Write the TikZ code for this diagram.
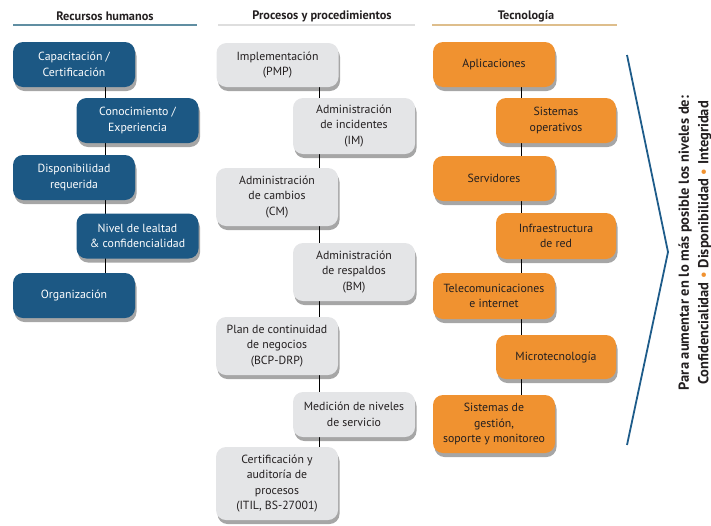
\documentclass[tikz,border=0pt]{standalone}
\usepackage{fontspec}
\setmainfont{PT Sans}
\usetikzlibrary{shadows,backgrounds}
\definecolor{rhblue}{RGB}{28,88,132}
\definecolor{ppgrey}{RGB}{228,229,231}
\definecolor{tcorange}{RGB}{240,146,48}
\definecolor{ulblue}{RGB}{96,142,162}
\definecolor{ulgrey}{RGB}{222,222,222}
\definecolor{ultan}{RGB}{222,190,140}
\definecolor{brblue}{RGB}{30,92,138}
\definecolor{txtdark}{RGB}{35,31,32}
\tikzset{
  box/.style={rounded corners=10pt, align=center, font=\fontsize{11.8}{15.5}\selectfont,
    inner sep=1pt,
    drop shadow={shadow xshift=1.5pt, shadow yshift=-4pt, opacity=0.35, fill=black}},
  bluebox/.style={box, fill=rhblue, text=white, minimum width=122pt, minimum height=45pt},
  greybox/.style={box, fill=ppgrey, text=txtdark, minimum width=122pt},
  orangebox/.style={box, fill=tcorange, text=txtdark, minimum width=122pt, minimum height=45pt},
  header/.style={font=\bfseries\fontsize{12.3}{14}\selectfont, text=txtdark},
  underline/.style={line width=1.4pt},
  spine/.style={line width=0.9pt, draw=black},
}
\begin{document}
\begin{tikzpicture}[x=1pt,y=-1pt]
\useasboundingbox (0,0) rectangle (711,525);
% headers
\node[header] (h1) at (105,16) {Recursos humanos};
\node[header] (h2) at (322,16) {Procesos y procedimientos};
\node[header] (h3) at (526,16) {Tecnología};
\coordinate (u1a) at (13,25); \coordinate (u1b) at (197,25);
\coordinate (u2a) at (218,25); \coordinate (u2b) at (415,25);
\coordinate (u3a) at (432,25); \coordinate (u3b) at (617,25);
\draw[underline, ulblue] (u1a) -- (u1b);
\draw[underline, ulgrey] (u2a) -- (u2b);
\draw[underline, ultan] (u3a) -- (u3b);
% left column
\node[bluebox] (l1) at (74,64.5) {Capacitación /\\Certificación};
\node[bluebox] (l2) at (137.5,120.5) {Conocimiento /\\Experiencia};
\node[bluebox] (l3) at (74,177.5) {Disponibilidad\\requerida};
\node[bluebox] (l4) at (137.5,236) {Nivel de lealtad\\\& confidencialidad};
\node[bluebox] (l5) at (74,295.5) {Organización};
% middle column
\node[greybox, minimum height=44pt] (m1) at (277.5,65) {Implementación\\(PMP)};
\node[greybox, minimum height=56pt] (m2) at (354,126) {Administración\\de incidentes\\(IM)};
\node[greybox, minimum height=58pt] (m3) at (277,197) {Administración\\de cambios\\(CM)};
\node[greybox, minimum height=58pt] (m4) at (354,272) {Administración\\de respaldos\\(BM)};
\node[greybox, minimum height=58pt] (m5) at (277,346) {Plan de continuidad\\de negocios\\(BCP-DRP)};
\node[greybox, minimum height=45pt] (m6) at (354,414.5) {Medición de niveles\\de servicio};
\node[greybox, minimum height=73pt] (m7) at (277,483.5) {Certificación y\\auditoría de\\procesos\\(ITIL, BS-27001)};
% right column
\node[orangebox] (r1) at (494,64.5) {Aplicaciones};
\node[orangebox, minimum width=120pt] (r2) at (556,120.5) {Sistemas\\operativos};
\node[orangebox] (r3) at (494,178.5) {Servidores};
\node[orangebox, minimum width=120pt, minimum height=46pt] (r4) at (556,236) {Infraestructura\\de red};
\node[orangebox, minimum height=46pt] (r5) at (494,296) {Telecomunicaciones\\e internet};
\node[orangebox, minimum width=120pt, minimum height=44pt] (r6) at (556,357) {Microtecnología};
\node[orangebox, minimum height=58pt] (r7) at (494,424) {Sistemas de\\gestión,\\soporte y monitoreo};
% spines
\coordinate (lx) at (105,0);
\coordinate (mx) at (319,0);
\coordinate (rx) at (521,0);
\begin{pgfonlayer}{background}
\draw[spine] (l1.center -| lx) -- (l5.center -| lx);
\draw[spine] (m1.center -| mx) -- (m7.center -| mx);
\draw[spine] (r1.center -| rx) -- (r7.center -| rx);
\end{pgfonlayer}
% bracket
\coordinate (bt) at (627,55);
\coordinate (bp) at (668,252);
\coordinate (bb) at (627,445);
\draw[brblue, line width=1.8pt, line join=miter] (bt) -- (bp) -- (bb);
% vertical text
\node[rotate=90, align=center, font=\bfseries\fontsize{14.5}{19.5}\selectfont, text=txtdark] (vt) at (695,243)
  {Para aumentar en lo más posible los niveles de:\\Confidencialidad {\color{tcorange}\textbullet} Disponibilidad {\color{tcorange}\textbullet} Integridad};
\end{tikzpicture}
\end{document}
